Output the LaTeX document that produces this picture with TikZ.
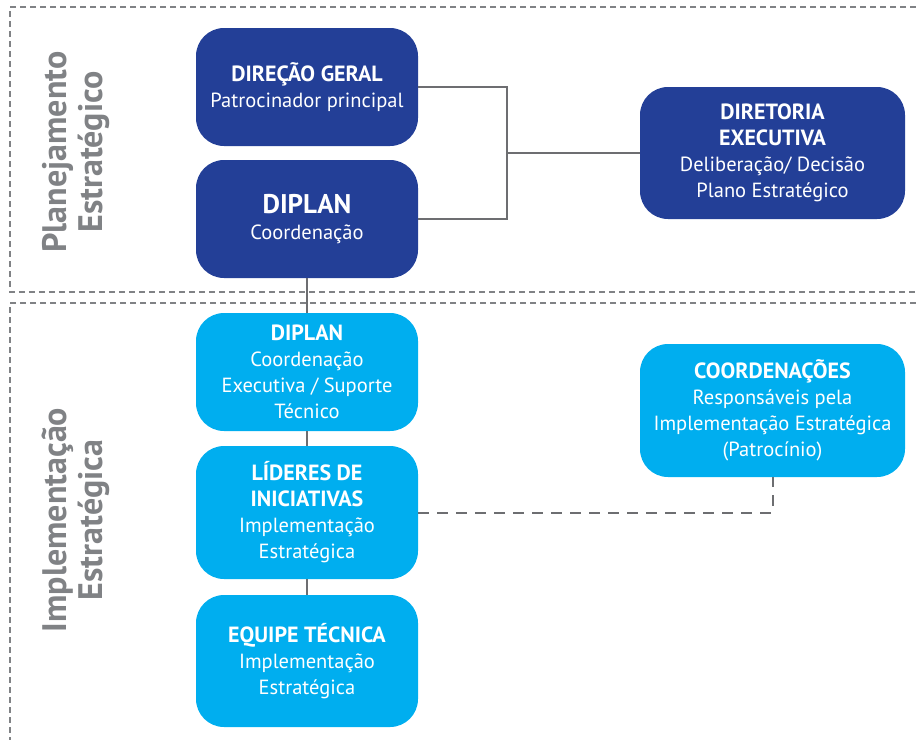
\documentclass[tikz,border=0pt]{standalone}
\usepackage{fontspec}
\setmainfont{PT Sans}
\usetikzlibrary{calc}
\definecolor{escuro}{HTML}{233F97}
\definecolor{claro}{HTML}{00AEEF}
\definecolor{linha}{HTML}{6D6E71}
\definecolor{rotulo}{HTML}{808285}
\newcommand{\cabecalho}[1]{{\fontsize{22}{26}\selectfont\bfseries #1}}

\begin{document}
\begin{tikzpicture}[x=1pt,y=-1pt,
    caixa/.style={rounded corners=28pt,text=white,align=center,inner sep=0pt,
        font=\fontsize{20.5}{26}\selectfont},
    estreita/.style={caixa,minimum width=222pt},
    larga/.style={caixa,minimum width=265pt},
    moldura/.style={draw=rotulo,line width=1.3pt,dash pattern=on 6pt off 4pt},
    ligacao/.style={draw=linha,line width=2pt},
    secao/.style={rotate=90,text=rotulo,align=center,font=\fontsize{34}{36}\selectfont\bfseries}]
            \useasboundingbox (0,0) rectangle (916,740);

            % molduras
            \draw[moldura] (916,7) -- (10,7) -- (10,292) -- (916,292);
            \draw[moldura] (916,303) -- (10,303) -- (10,740);

            \node[secao] (plan) at (76,152) {Planejamento\\Estratégico};
            \node[secao] (impl) at (76,520) {Implementação\\Estratégica};

            % planejamento
            \node[estreita,fill=escuro,minimum height=118pt] (dg) at (307,87)
                {\cabecalho{DIREÇÃO GERAL}\\Patrocinador principal};
            \node[estreita,fill=escuro,minimum height=118pt] (dp) at (307,219)
                {{\fontsize{27}{30}\selectfont\bfseries DIPLAN}\\Coordenação};
            \node[larga,fill=escuro,minimum height=132pt] (de) at (772.5,153)
                {\cabecalho{DIRETORIA}\\\cabecalho{EXECUTIVA}\\Deliberação/ Decisão\\Plano Estratégico};

            % implementacao
            \node[estreita,fill=claro,minimum height=118pt] (dc) at (307,372)
                {\cabecalho{DIPLAN}\\Coordenação\\Executiva / Suporte\\Técnico};
            \node[estreita,fill=claro,minimum height=133pt] (li) at (307,512.5)
                {\cabecalho{LÍDERES DE}\\\cabecalho{INICIATIVAS}\\Implementação\\Estratégica};
            \node[estreita,fill=claro,minimum height=132pt] (eq) at (307,661)
                {\cabecalho{EQUIPE TÉCNICA}\\Implementação\\Estratégica};
            \node[larga,fill=claro,minimum height=133pt] (co) at (772.5,410.5)
                {\cabecalho{COORDENAÇÕES}\\Responsáveis pela\\Implementação Estratégica\\(Patrocínio)};

            \coordinate (junta) at (507,153);

            \draw[ligacao] (dg.east) -| (junta) |- (dp.east);
            \draw[ligacao] (junta) -- (de.west);
            \draw[ligacao] (dp.south) -- (dc.north);
            \draw[ligacao] (dc.south) -- (li.north);
            \draw[ligacao] (li.south) -- (eq.north);
            \draw[ligacao,dash pattern=on 11pt off 8pt] (li.east) -| (co.south);

        \end{tikzpicture}
\end{document}
